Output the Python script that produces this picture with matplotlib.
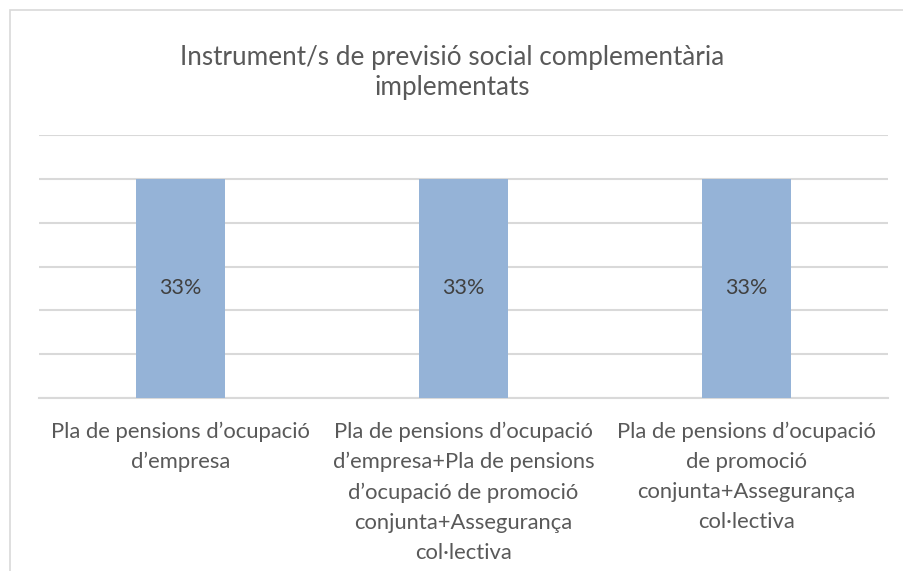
import matplotlib
matplotlib.use("Agg")
import matplotlib.pyplot as plt
from matplotlib.patches import Rectangle

categories = [
    "Pla de pensions d\u2019ocupació\nd\u2019empresa",
    "Pla de pensions d\u2019ocupació\nd\u2019empresa+Pla de pensions\nd\u2019ocupació de promoció\nconjunta+Assegurança\ncol·lectiva",
    "Pla de pensions d\u2019ocupació\nde promoció\nconjunta+Assegurança\ncol·lectiva",
]
values = [1/3, 1/3, 1/3]
value_labels = ["33%", "33%", "33%"]
title = "Instrument/s de previsió social complementària\nimplementats"

plt.rcParams['font.family'] = ['Lato', 'DejaVu Sans']
TXT = "#595959"
BAR = "#95B3D7"
GRID = "#D9D9D9"

fig = plt.figure(figsize=(9.04, 5.71), dpi=100)
fig.patches.append(Rectangle((10/904, -0.1), 1.2, (571-10)/571 + 0.1, transform=fig.transFigure,
                             fill=False, edgecolor=GRID, linewidth=1.2))
ax = fig.add_axes([39/904, (571-398)/571, (888-39)/904, (398-135)/571])
x = range(len(categories))
bars = ax.bar(x, values, width=0.315, color=BAR, zorder=3)
for b, lab in zip(bars, value_labels):
    ax.text(b.get_x() + b.get_width()/2, b.get_height()/2, lab, ha='center', va='center',
            fontsize=15.5, color="#404040", zorder=4)
ax.set_xlim(-0.5, 2.5)
ax.set_ylim(0, 0.4)
ax.set_yticks([k/15 for k in range(7)])
ax.tick_params(axis='y', left=False, labelleft=False)
ax.grid(axis='y', color=GRID, linewidth=1.5, zorder=0)
for s in ['top', 'right', 'left']:
    ax.spines[s].set_visible(False)
ax.spines['bottom'].set_color(GRID)
ax.spines['bottom'].set_linewidth(1.5)
ax.set_xticks(list(x))
ax.set_xticklabels(categories, fontsize=15.8, color=TXT, linespacing=1.62)
ax.tick_params(axis='x', length=0, pad=17)
fig.text(0.5, (571-72.5)/571, title, ha='center', va='center', fontsize=18.8, color=TXT, linespacing=1.3)
fig.savefig("out.png", dpi=100)
